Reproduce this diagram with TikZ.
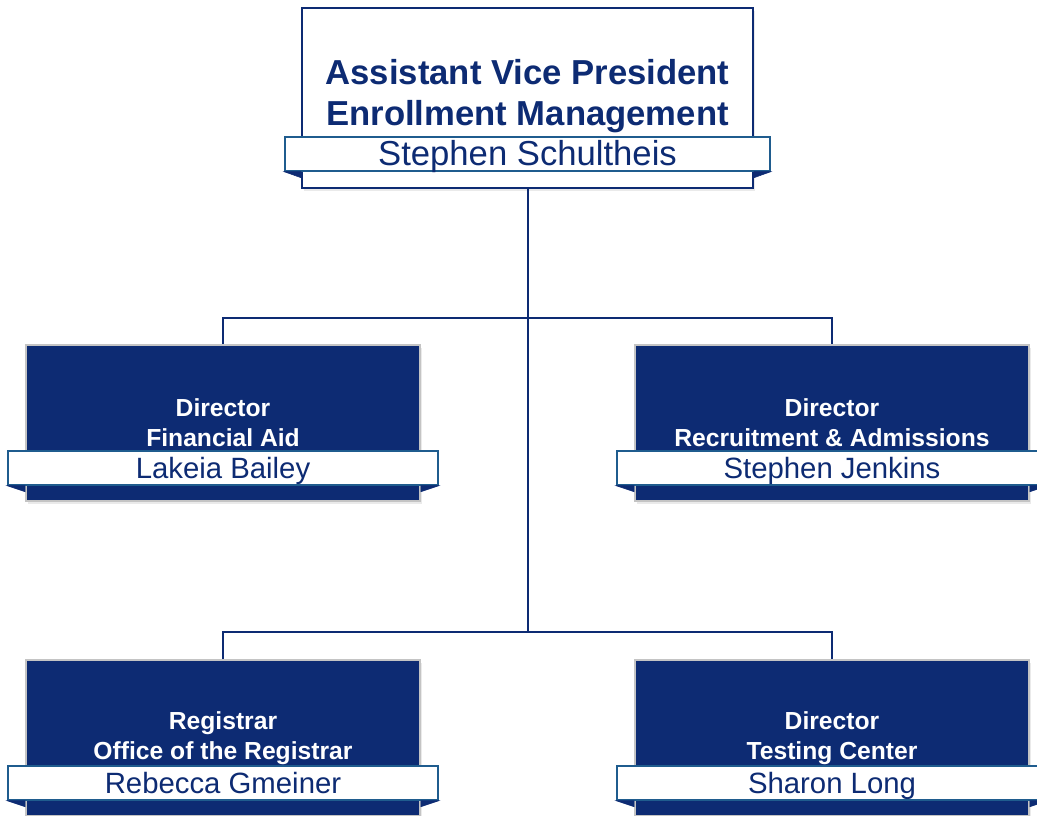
\documentclass[tikz,border=0pt]{standalone}
\usepackage{fontspec}
\setmainfont{Liberation Sans}
\usetikzlibrary{shadows}
\definecolor{navy}{HTML}{0D2B73}
\definecolor{bandline}{HTML}{1F5C8E}
\definecolor{boxgray}{HTML}{C4C4C4}
\begin{document}
\begin{tikzpicture}[x=0.75pt,y=-0.75pt,
  shad/.style={drop shadow={opacity=0.16,shadow xshift=1.5pt,shadow yshift=-2.5pt}},
  topbox/.style={fill=white,draw=navy,line width=1.3pt,minimum width=451*0.75pt,minimum height=180*0.75pt,inner sep=0pt,shad},
  toptitle/.style={text=navy,font=\fontsize{26}{30.75}\selectfont\bfseries,align=center},
  dirbox/.style={fill=navy,draw=boxgray,line width=1.2pt,minimum width=394*0.75pt,minimum height=156*0.75pt,inner sep=0pt,shad,
     text=white,font=\fontsize{18.5}{22.5}\selectfont\bfseries,align=center},
  band/.style={fill=white,draw=bandline,line width=1.1pt,minimum width=430*0.75pt,minimum height=34*0.75pt,inner sep=0pt,
     text=navy,font=\fontsize{22}{26}\selectfont,text height=19pt,text depth=4pt},
  topband/.style={band,minimum width=485*0.75pt,font=\fontsize{26}{30}\selectfont,text height=21pt,text depth=4.5pt},
  link/.style={draw=navy,line width=1.5pt},
  foldtri/.style={fill=navy,draw=navy,line width=0.4pt}
]
\clip (0,0) rectangle (1037,815);
\fill[white] (0,0) rectangle (1037,815);

% connectors
\coordinate (j1) at (527.5,318);
\coordinate (j2) at (527.5,632);

% top
\node[topbox] (avp) at (527.5,98) {};
\node[toptitle] (avpt) at (527.5,96.5) {Assistant Vice President\\Enrollment Management};
\node[topband] (avpn) at (527.5,154) {Stephen Schultheis};
\fill[foldtri] (avpn.south west) -- (avp.west |- avpn.south) -- ++(0,6) -- cycle;
\fill[foldtri] (avpn.south east) -- (avp.east |- avpn.south) -- ++(0,6) -- cycle;

\draw[link] (avp.south) -- (j2);

% directors row 1
\node[dirbox] (fa) at (223,423) {Director\\Financial Aid};
\node[band] (fan) at (223,468) {Lakeia Bailey};
\fill[foldtri] (fan.south west) -- (fa.west |- fan.south) -- ++(0,6) -- cycle;
\fill[foldtri] (fan.south east) -- (fa.east |- fan.south) -- ++(0,6) -- cycle;

\node[dirbox] (ra) at (832,423) {Director\\Recruitment \& Admissions};
\node[band] (ran) at (832,468) {Stephen Jenkins};
\fill[foldtri] (ran.south west) -- (ra.west |- ran.south) -- ++(0,6) -- cycle;
\fill[foldtri] (ran.south east) -- (ra.east |- ran.south) -- ++(0,6) -- cycle;

% row 2
\node[dirbox] (rg) at (223,738) {Registrar\\Office of the Registrar};
\node[band] (rgn) at (223,783) {Rebecca Gmeiner};
\fill[foldtri] (rgn.south west) -- (rg.west |- rgn.south) -- ++(0,6) -- cycle;
\fill[foldtri] (rgn.south east) -- (rg.east |- rgn.south) -- ++(0,6) -- cycle;

\node[dirbox] (tc) at (832,738) {Director\\Testing Center};
\node[band] (tcn) at (832,783) {Sharon Long};
\fill[foldtri] (tcn.south west) -- (tc.west |- tcn.south) -- ++(0,6) -- cycle;
\fill[foldtri] (tcn.south east) -- (tc.east |- tcn.south) -- ++(0,6) -- cycle;

\draw[link] (fa.north) |- (j1) -| (ra.north);
\draw[link] (rg.north) |- (j2) -| (tc.north);
\end{tikzpicture}
\end{document}
